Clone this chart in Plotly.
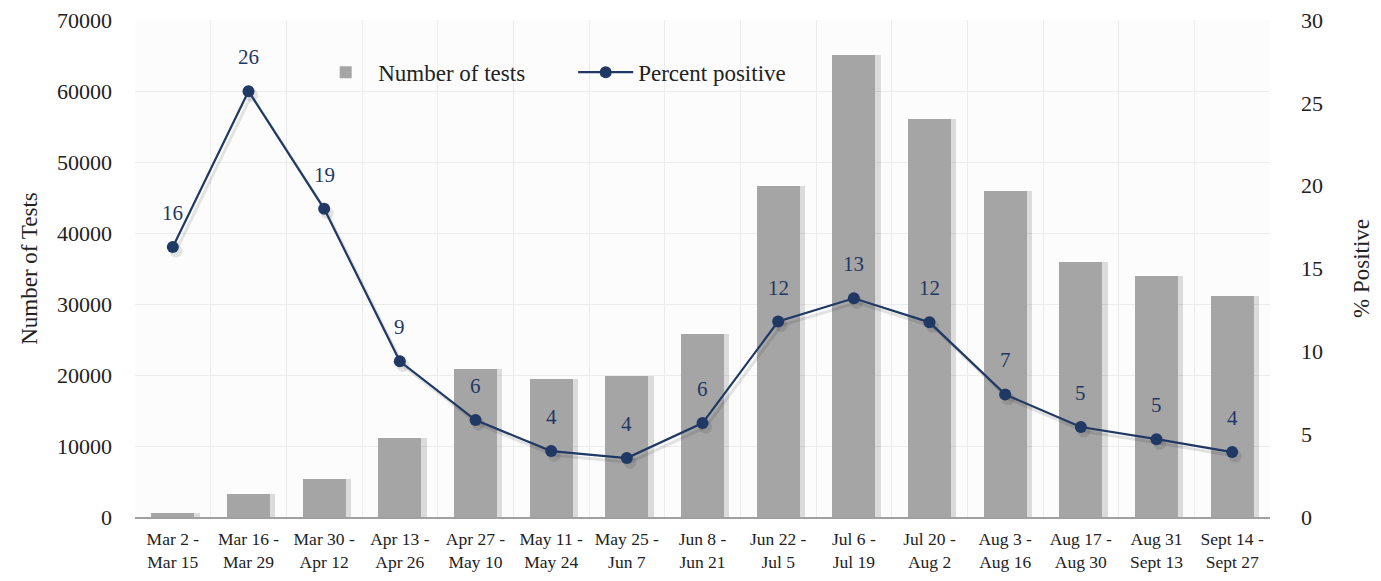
import plotly.graph_objects as go

periods = ["Mar 2 -<br>Mar 15", "Mar 16 -<br>Mar 29", "Mar 30 -<br>Apr 12", "Apr 13 -<br>Apr 26",
           "Apr 27 -<br>May 10", "May 11 -<br>May 24", "May 25 -<br>Jun 7", "Jun 8 -<br>Jun 21",
           "Jun 22 -<br>Jul 5", "Jul 6 -<br>Jul 19", "Jul 20 -<br>Aug 2", "Aug 3 -<br>Aug 16",
           "Aug 17 -<br>Aug 30", "Aug 31<br>Sept 13", "Sept 14 -<br>Sept 27"]
tests = [600, 3300, 5400, 11100, 20800, 19400, 19800, 25800, 46600, 65100, 56000, 45900, 35900, 33900, 31100]
pct_positive = [16.3, 25.7, 18.6, 9.4, 5.85, 3.98, 3.56, 5.67, 11.8, 13.2, 11.75, 7.4, 5.43, 4.7, 3.92]
pct_labels = ["16", "26", "19", "9", "6", "4", "4", "6", "12", "13", "12", "7", "5", "5", "4"]

xs = list(range(len(periods)))
FONT = "Liberation Serif"
NAVY = "#1f3864"
BAR = "#a5a5a5"
BW = 0.57

fig = go.Figure()
# bar shadow
fig.add_trace(go.Bar(x=xs, y=tests, width=BW, offset=-BW / 2 + 0.07,
                     marker=dict(color="rgba(0,0,0,0.13)", line=dict(width=0)),
                     showlegend=False, hoverinfo="skip"))
fig.add_trace(go.Bar(x=xs, y=tests, width=BW, offset=-BW / 2, name="Number of tests",
                     marker=dict(color=BAR, line=dict(width=0))))
# line shadow
fig.add_trace(go.Scatter(x=[x + 0.04 for x in xs], y=[v - 0.25 for v in pct_positive], yaxis="y2",
                         mode="lines+markers", showlegend=False, hoverinfo="skip",
                         line=dict(color="rgba(0,0,0,0.10)", width=3),
                         marker=dict(color="rgba(0,0,0,0.10)", size=13)))
fig.add_trace(go.Scatter(x=xs, y=pct_positive, yaxis="y2", mode="lines+markers",
                         name="Percent positive",
                         line=dict(color=NAVY, width=2.2),
                         marker=dict(color=NAVY, size=12)))

for xi, yv, lab in zip(xs, pct_positive, pct_labels):
    fig.add_annotation(x=xi, y=yv, yref="y2", text=lab, showarrow=False, yshift=34,
                       font=dict(family=FONT, size=21, color=NAVY))

fig.update_layout(
    width=1373, height=573,
    margin=dict(l=127, r=111, t=12, b=64),
    paper_bgcolor="white", plot_bgcolor="#fcfcfc",
    barmode="overlay",
    font=dict(family=FONT, color="#222222"),
    xaxis=dict(tickmode="array", tickvals=xs, ticktext=periods, range=[-0.5, len(xs) - 0.5],
               showgrid=False, tickfont=dict(size=17.5, color="#222222"), automargin=False,
               showline=True, linecolor="#a0a0a0", linewidth=2, ticks="",
               ticklabeloverflow="allow", ticklabelstandoff=5,
               minor=dict(tick0=0.5, dtick=1, showgrid=True, gridcolor="#ececec", gridwidth=1, ticks=""),
               zeroline=False),
    yaxis=dict(range=[0, 70000], dtick=10000, tickformat="d", showgrid=True, gridcolor="#ececec",
               gridwidth=1, automargin=False, ticklabelstandoff=22, ticklabeloverflow="allow",
               tickfont=dict(size=22, color="#222222"), zeroline=False, ticks="",
               title=dict(text="Number of Tests", font=dict(size=23, color="#222222"), standoff=12)),
    yaxis2=dict(range=[0, 30], dtick=5, overlaying="y", side="right", showgrid=False,
                automargin=False, ticklabelstandoff=30, ticklabeloverflow="allow",
                tickfont=dict(size=22, color="#222222"), zeroline=False, ticks="",
                title=dict(text="% Positive", font=dict(size=23, color="#222222"), standoff=30)),
    legend=dict(orientation="h", x=0.157, y=0.895, xanchor="left", yanchor="middle",
                entrywidth=190, entrywidthmode="pixels", itemwidth=55,
                bgcolor="rgba(0,0,0,0)", font=dict(size=23, color="#222222")),
    bargap=0,
)

fig.write_html("out.html")
